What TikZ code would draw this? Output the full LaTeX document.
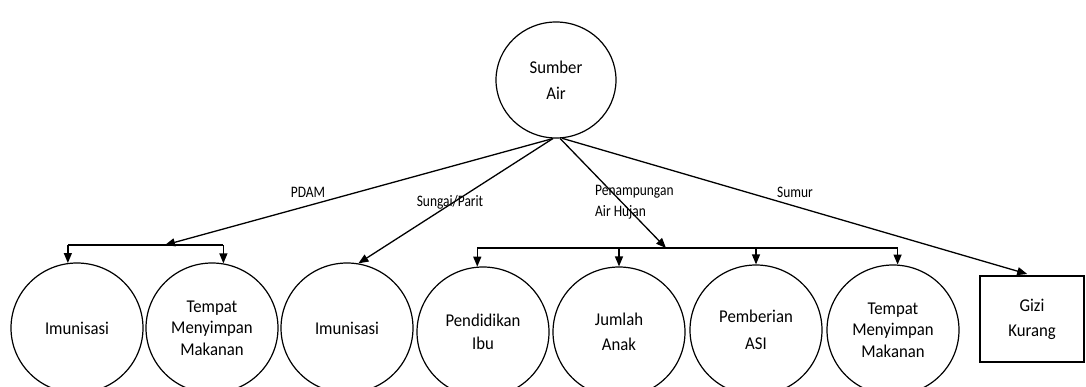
\documentclass[tikz,border=0pt]{standalone}
\usepackage{fontspec}
\setmainfont{Carlito}[FakeStretch=0.93]
\newfontfamily\lblfont{Carlito}[FakeStretch=0.84]
\usetikzlibrary{arrows.meta,shapes.geometric}
\begin{document}
\begin{tikzpicture}[x=1pt,y=-1pt,
  every node/.style={font=\fontsize{18}{22}\selectfont},
  ell/.style={draw, ellipse, line width=1.2pt, minimum width=132pt, minimum height=130pt, inner sep=0pt, align=center},
  lbl/.style={font=\lblfont\fontsize{16}{21}\selectfont, inner sep=0pt},
  ln/.style={line width=1.3pt},
  arr/.style={ln, -{Triangle[length=10pt,width=8pt]}}
]
\useasboundingbox (0,0) rectangle (1086,387);
% top node
\node[draw, ellipse, line width=1.2pt, minimum width=120pt, minimum height=116pt, inner sep=0pt, align=center, font=\fontsize{18}{26}\selectfont] (top) at (556,80) {Sumber\\Air};
% bottom nodes
\node[ell] (c1) at (77,328) {Imunisasi};
\node[ell, font=\fontsize{18}{21.5}\selectfont] (c2) at (212,328) {Tempat\\Menyimpan\\Makanan};
\node[ell] (c3) at (347,328) {Imunisasi};
\node[ell, font=\fontsize{18}{23}\selectfont] (c4) at (483,332) {Pendidikan\\Ibu};
\node[ell, font=\fontsize{18}{25}\selectfont] (c5) at (619,332) {Jumlah\\Anak};
\node[ell, font=\fontsize{18}{27}\selectfont] (c6) at (756,330) {Pemberian\\ASI};
\node[ell, font=\fontsize{18}{21.5}\selectfont] (c7) at (893,330) {Tempat\\Menyimpan\\Makanan};
\node[draw, rectangle, line width=1.2pt, minimum width=104pt, minimum height=86pt, inner sep=0pt, align=center, font=\fontsize{18}{25}\selectfont] (gizi) at (1032,319) {Gizi\\Kurang};
% junction coordinates
\coordinate (pj) at (165,245);
\coordinate (hj) at (666,248);
% PDAM
\draw[arr] (top.-93) -- (pj);
\draw[ln] (c1.98 |- pj) -- (c2.80 |- pj);
\draw[arr] (c1.98 |- pj) -- (c1.98);
\draw[arr] (c2.80 |- pj) -- (c2.80);
% Sungai/Parit
\draw[arr] (top.-93) -- (c3.80);
% Penampungan Air Hujan
\draw[arr] (top.-86) -- (hj);
\draw[ln] (c4.95 |- hj) -- (c7.86 |- hj);
\draw[arr] (c4.95 |- hj) -- (c4.95);
\draw[arr] (c5.north |- hj) -- (c5.north);
\draw[arr] (c6.north |- hj) -- (c6.north);
\draw[arr] (c7.86 |- hj) -- (c7.86);
% Sumur
\draw[arr, shorten >=5pt] (top.-84) -- (gizi.north);
% labels
\node[lbl] (lpdam) at (308,192) {PDAM};
\node[lbl] (lsungai) at (450,202) {Sungai/Parit};
\node[lbl, anchor=west, align=left] (lpen) at (595,202) {Penampungan\\Air Hujan};
\node[lbl] (lsumur) at (795,192) {Sumur};
\end{tikzpicture}
\end{document}
